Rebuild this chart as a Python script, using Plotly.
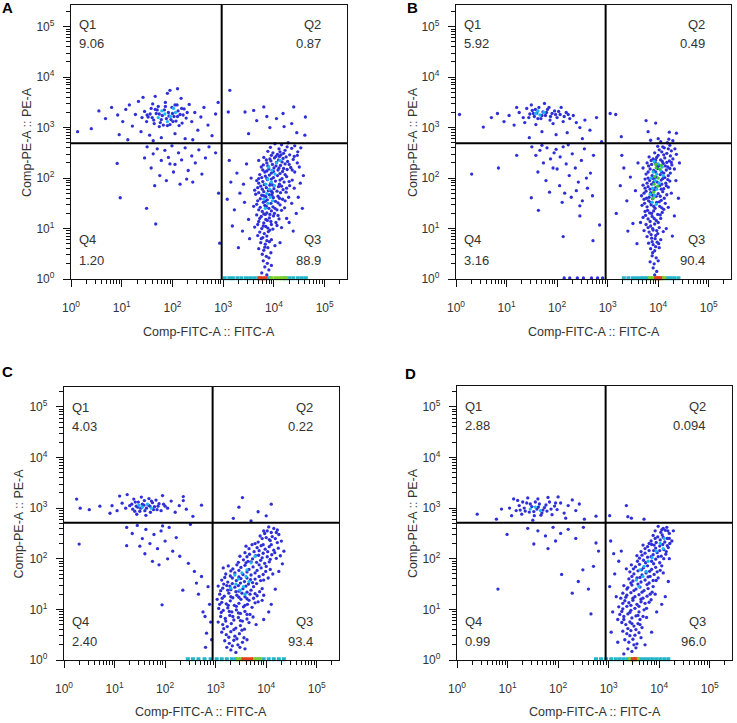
import plotly.graph_objects as go

# ---------------- data (log10 units: (FITC, PE)) ----------------
panels = ["A", "B", "C", "D"]
quad_pct = {
    "A": ["9.06", "0.87", "88.9", "1.20"],
    "B": ["5.92", "0.49", "90.4", "3.16"],
    "C": ["4.03", "0.22", "93.4", "2.40"],
    "D": ["2.88", "0.094", "96.0", "0.99"],
}
gate_x = {"A": 2.97, "B": 2.96, "C": 2.94, "D": 2.94}
gate_y = {"A": 2.69, "B": 2.69, "C": 2.71, "D": 2.71}

A_q3 = [(4.02,2.68),(4.15,2.66),(4.28,2.70),(4.41,2.64),(3.93,2.61),(4.10,2.58),(4.22,2.55),(4.35,2.59),(4.47,2.52),(3.98,2.50),(4.07,2.47),(4.19,2.49),(4.31,2.46),(4.40,2.43),(3.88,2.53),(4.53,2.60),(4.26,2.62),(4.12,2.52),
(3.80,2.41),(3.92,2.38),(4.01,2.40),(4.09,2.36),(4.18,2.39),(4.27,2.33),(4.38,2.37),(4.46,2.30),(3.86,2.30),(3.97,2.27),(4.05,2.31),(4.13,2.25),(4.22,2.28),(4.33,2.21),(3.75,2.22),(3.90,2.18),(4.00,2.20),(4.08,2.16),(4.17,2.13),(4.26,2.17),(4.41,2.12),(3.82,2.12),(3.95,2.10),(4.04,2.24),(4.50,2.22),(3.70,2.35),(4.11,2.43),
(3.72,2.07),(3.83,2.04),(3.91,2.06),(3.99,2.01),(4.07,2.05),(4.16,1.99),(4.25,2.03),(4.36,1.96),(3.66,1.95),(3.78,1.93),(3.87,1.97),(3.94,1.90),(4.03,1.94),(4.11,1.88),(4.20,1.92),(4.31,1.85),(3.74,1.84),(3.85,1.81),(3.92,1.86),(4.00,1.79),(4.09,1.83),(4.18,1.77),(4.40,1.80),(3.62,1.76),(3.80,1.73),(3.89,1.75),(3.97,1.71),(4.06,1.74),(4.24,1.72),(3.70,1.99),
(3.64,1.68),(3.76,1.66),(3.84,1.63),(3.91,1.67),(3.99,1.61),(4.08,1.64),(4.17,1.58),(4.29,1.62),(3.68,1.55),(3.79,1.52),(3.87,1.57),(3.94,1.50),(4.03,1.54),(4.12,1.47),(3.60,1.44),(3.73,1.42),(3.82,1.46),(3.90,1.40),(3.98,1.43),(4.06,1.37),(4.21,1.41),(3.77,1.34),(3.86,1.31),(3.95,1.35),(4.01,1.30),(4.35,1.50),
(3.66,1.27),(3.75,1.24),(3.83,1.28),(3.91,1.21),(3.99,1.25),(4.10,1.19),(3.70,1.14),(3.80,1.11),(3.87,1.16),(3.95,1.08),(4.04,1.12),(3.62,1.03),(3.76,1.00),(3.84,1.04),(3.92,0.97),(4.15,1.02),(3.72,0.93),(3.81,0.90),(3.89,0.94),(4.25,1.20),
(3.68,0.86),(3.78,0.82),(3.86,0.85),(3.95,0.78),(3.74,0.72),(3.83,0.69),(3.91,0.74),(4.02,0.66),(3.70,0.60),(3.80,0.57),(3.88,0.62),(3.77,0.49),(3.85,0.45),(3.94,0.52),(4.12,0.72),
(3.79,0.36),(3.87,0.31),(3.82,0.24),(3.90,0.18),(3.76,0.12),(3.86,0.08),(3.95,0.27),
(3.08,1.58),(3.15,1.92),(3.22,1.37),(3.27,2.10),(3.33,1.70),(3.38,0.95),(3.42,1.52),(3.46,2.28),(3.50,1.18),(3.30,0.62),(3.18,1.05),(3.52,0.80),(3.12,2.35),(3.40,1.88),(3.55,2.00),
(4.48,1.62),(4.52,1.90),(4.44,1.30),(4.58,2.05),(4.38,0.95),(4.30,1.12),(4.46,2.45),(4.56,1.40)]
A_q3_core = [(3.95,2.45),(4.04,2.43),(4.14,2.46),(4.24,2.42),(3.85,2.36),(3.94,2.34),(4.16,2.32),(4.30,2.27),(3.79,2.26),(3.88,2.24),(4.10,2.20),(4.19,2.19),(4.36,2.16),(3.78,2.16),(3.86,2.14),(3.99,2.13),(4.12,2.09),(4.22,2.07),(3.76,2.01),(3.86,2.00),(3.95,1.98),(4.12,1.96),(4.30,1.93),(3.70,1.90),(3.81,1.87),(3.98,1.86),(4.15,1.84),(4.25,1.80),(3.68,1.81),(3.77,1.78),(3.95,1.74),(4.13,1.71),(3.70,1.71),(3.80,1.65),(3.96,1.66),(4.11,1.60),(4.22,1.55),(3.73,1.59),(3.83,1.54),(4.08,1.51),(3.66,1.48),(3.85,1.44),(4.02,1.40),(4.15,1.36),(3.70,1.37),(3.80,1.29),(3.92,1.28),(4.08,1.26),(3.72,1.20),(3.84,1.18),(3.94,1.14),(4.06,1.06),(3.68,1.08),(3.79,1.05),(3.88,1.01),(3.98,0.99),(3.75,0.80),(3.86,0.76),(3.82,0.63),(3.90,0.42)]
A_q1 = [(1.45,3.32),(1.52,3.21),(1.58,3.38),(1.63,3.15),(1.68,3.28),(1.72,3.42),(1.76,3.10),(1.80,3.24),(1.84,3.35),(1.88,3.18),(1.92,3.30),(1.95,3.06),(1.99,3.40),(2.03,3.22),(2.07,3.13),(2.11,3.33),(2.15,3.26),(2.19,3.09),(2.23,3.37),(2.27,3.19),(1.49,3.12),(1.61,3.47),(1.74,3.02),(1.86,3.50),(2.00,3.28),(2.09,3.45),(2.21,3.25),(1.56,3.27),(1.70,3.35),(1.82,3.05),(1.97,3.16),(2.13,3.04),
(0.55,3.33),(0.68,3.18),(0.80,3.40),(0.92,3.25),(1.02,3.12),(1.08,3.36),(1.15,3.45),(1.21,3.03),(1.27,3.26),(1.33,3.52),(1.38,2.92),(1.42,3.60),(1.55,2.85),(1.66,3.62),(1.78,2.80),(1.90,3.68),(2.05,2.88),(2.17,3.58),(2.25,2.78),(2.33,3.46),(2.38,3.12),(2.44,3.30),(2.50,2.95),(2.56,3.21),(2.62,3.40),(2.70,3.05),(2.78,2.84),(2.85,3.27),(1.95,3.74),(2.10,3.77),(0.40,2.98),(0.13,2.92),(0.95,2.86),(1.12,2.76),(2.40,2.76),(1.62,2.74),(2.90,3.50)]
A_q1_core = [(1.50,3.25),(1.60,3.20),(1.66,3.36),(1.78,3.16),(1.86,3.42),(1.93,3.23),(2.01,3.12),(2.10,3.22),(2.18,3.38),(1.74,3.27),(1.40,3.20),(2.29,3.30),(1.64,3.08),(2.05,3.45),(1.90,3.04)]
A_q4 = [(1.50,2.62),(1.62,2.48),(1.70,2.58),(1.78,2.35),(1.85,2.55),(1.92,2.41),(1.99,2.64),(2.05,2.27),(2.12,2.50),(2.18,2.36),(2.25,2.60),(2.31,2.15),(2.38,2.44),(2.45,2.30),(2.52,2.56),(2.58,2.08),(2.65,2.40),(1.58,2.20),(1.75,2.05),(1.88,1.95),(2.02,2.12),(2.15,1.88),(2.28,1.98),(1.65,1.85),(2.40,1.92),(1.95,2.28),(2.72,2.62),(1.45,2.40),
(0.91,2.29),(0.97,1.61),(1.49,1.40),(1.67,1.09),(2.91,1.70),(2.93,0.71),(2.85,2.50)]
A_q2 = [(3.13,3.74),(3.10,3.31),(3.43,3.31),(3.60,3.34),(3.80,3.41),(3.66,3.14),(3.86,3.22),(4.05,3.18),(4.18,3.28),(4.39,3.41),(4.62,3.21),(3.50,2.88),(3.92,3.00),(4.20,3.02),(4.45,2.90),(4.61,2.85),(4.35,3.08)]
A_dense = [(3.90,2.22),(3.96,2.15),(4.02,2.08),(3.88,1.98),(3.95,1.92),(3.84,1.88),(4.01,1.85),(3.91,1.78),(3.86,1.69),(3.93,1.62),(3.80,1.58),(3.88,1.50),(4.05,2.30),(4.12,2.35),(3.97,1.55),(3.83,1.40),
(1.72,3.20),(1.85,3.27),(1.96,3.22),(2.06,3.30),(1.79,3.33),(1.90,3.12),(2.02,3.38)]
A_green = []
A_axis_cyan = [3.03,3.12,3.19,3.28,3.36,3.45,3.53,3.61,3.69,3.92,4.21,4.30,4.38,4.47,4.55,4.63]
A_axis_green = [3.95,4.03,4.10,4.16,4.24]
A_axis_red = [3.72,3.78,3.84]

B_q3 = [(4.05,2.72),(4.18,2.70),(4.29,2.74),(3.99,2.63),(4.12,2.60),(4.23,2.65),(4.33,2.58),(4.07,2.52),(4.17,2.49),(4.26,2.54),(3.93,2.50),(4.36,2.47),(4.02,2.56),(4.21,2.77),
(3.82,2.42),(3.90,2.38),(3.97,2.41),(4.05,2.36),(4.13,2.40),(4.22,2.34),(4.29,2.38),(3.78,2.30),(3.87,2.27),(3.94,2.31),(4.02,2.25),(4.10,2.29),(4.19,2.22),(4.27,2.26),(3.84,2.18),(3.91,2.15),(3.99,2.19),(4.07,2.12),(4.16,2.16),(4.24,2.10),(3.76,2.08),(3.88,2.05),(3.96,2.02),(4.04,2.07),(4.13,2.01),(3.70,2.20),(4.32,2.18),
(3.74,1.98),(3.83,1.95),(3.90,1.99),(3.98,1.92),(4.06,1.96),(4.15,1.90),(4.23,1.94),(3.70,1.86),(3.80,1.83),(3.87,1.88),(3.95,1.81),(4.03,1.85),(4.11,1.79),(4.20,1.82),(3.76,1.74),(3.85,1.71),(3.92,1.76),(4.00,1.69),(4.09,1.73),(4.17,1.67),(3.67,1.65),(3.82,1.62),(3.96,1.64),(4.26,1.70),
(3.72,1.58),(3.81,1.55),(3.89,1.59),(3.97,1.52),(4.06,1.56),(4.14,1.50),(3.68,1.46),(3.78,1.43),(3.86,1.47),(3.94,1.40),(4.03,1.44),(4.11,1.38),(3.74,1.34),(3.83,1.31),(3.91,1.35),(3.99,1.28),(4.08,1.32),(3.70,1.22),(3.80,1.19),(3.88,1.24),(3.96,1.16),(4.05,1.20),(4.20,1.42),(3.65,1.12),
(3.76,1.08),(3.85,1.05),(3.93,1.09),(4.02,1.02),(3.72,0.96),(3.82,0.93),(3.90,0.97),(3.99,0.90),(4.10,0.94),(3.78,0.84),(3.87,0.81),(3.95,0.86),(4.05,0.78),(3.81,0.71),(3.90,0.68),(3.98,0.73),(3.85,0.60),(3.93,0.56),(4.02,0.62),(4.16,1.00),
(3.88,0.46),(3.96,0.42),(3.84,0.34),(3.92,0.30),(4.00,0.36),(3.90,0.22),(3.97,0.15),(3.93,0.08),
(3.17,1.30),(3.25,1.85),(3.32,2.20),(3.38,1.55),(3.45,2.02),(3.50,1.10),(3.55,1.75),(3.40,0.95),(3.60,2.30),(3.28,2.45),(3.58,0.70),
(4.35,1.95),(4.40,1.60),(4.32,1.25),(4.42,2.30),(4.28,0.85)]
B_q3_core = [(4.09,2.62),(4.20,2.58),(4.00,2.45),(4.11,2.46),(4.24,2.44),(3.86,2.35),(3.95,2.36),(4.08,2.33),(4.17,2.31),(4.26,2.31),(3.81,2.24),(3.98,2.23),(4.14,2.24),(4.23,2.19),(3.80,2.12),(3.95,2.12),(4.11,2.10),(4.20,2.05),(3.80,2.00),(3.92,2.00),(4.09,1.99),(4.19,1.97),(3.78,1.90),(3.91,1.92),(4.07,1.88),(4.16,1.85),(3.74,1.80),(3.84,1.78),(4.06,1.78),(3.72,1.70),(3.89,1.66),(4.04,1.64),(4.12,1.60),(3.77,1.60),(3.85,1.52),(4.02,1.53),(3.73,1.50),(3.91,1.44),(4.07,1.41),(3.79,1.36),(3.87,1.30),(4.04,1.27),(3.75,1.26),(3.92,1.20),(3.84,1.14),(4.00,1.12),(3.80,1.02),(3.89,1.00),(3.97,0.96),(3.86,0.88),(3.94,0.80),(4.01,0.70),(3.88,0.74),(3.95,0.64),(3.89,0.52)]
B_q1 = [(1.25,3.30),(1.33,3.20),(1.40,3.38),(1.46,3.27),(1.51,3.34),(1.55,3.22),(1.60,3.29),(1.64,3.40),(1.68,3.18),(1.72,3.31),(1.77,3.24),(1.81,3.36),(1.86,3.15),(1.90,3.28),(1.95,3.33),(2.00,3.20),(2.06,3.26),(2.12,3.12),(2.18,3.30),(2.25,3.18),(2.32,3.24),(1.36,3.10),(1.49,3.45),(1.58,3.06),(1.75,3.48),(1.92,3.08),(2.08,3.40),(2.38,3.10),
(0.07,3.26),(0.54,3.01),(0.70,3.20),(0.82,3.28),(0.95,3.12),(1.05,3.24),(1.15,3.05),(1.20,3.40),(2.45,3.00),(2.55,3.15),(2.65,2.95),(2.78,3.20),(2.20,2.90),(1.98,2.86),(1.70,2.92),(1.45,2.80),(2.50,2.78),(2.88,2.72)]
B_q1_core = [(1.44,3.20),(1.53,3.28),(1.62,3.18),(1.70,3.24),(1.79,3.30),(1.87,3.22),(1.97,3.26),(2.03,3.32),(2.14,3.22),(2.22,3.26),(1.57,3.36),(1.84,3.40)]
B_q4 = [(1.50,2.62),(1.58,2.45),(1.66,2.55),(1.73,2.30),(1.80,2.60),(1.87,2.38),(1.94,2.50),(2.00,2.18),(2.06,2.42),(2.12,2.62),(2.18,2.28),(2.24,2.05),(2.30,2.48),(2.36,2.20),(2.42,1.92),(2.48,2.35),(2.54,2.58),(2.60,1.80),(2.66,2.10),(2.72,2.45),(1.62,2.12),(1.78,1.95),(1.92,2.20),(2.05,1.85),(2.15,1.70),(2.28,1.62),(2.38,1.75),(2.50,1.55),(2.58,2.00),(1.85,1.72),(2.10,1.52),(2.45,1.45),(2.70,1.65),(1.70,2.65),(2.22,2.66),(1.98,2.57),
(0.31,2.08),(0.84,2.20),(1.20,2.45),(2.12,0.84),(2.84,1.07),(2.71,0.76),(2.45,1.25),(1.49,1.61),(1.63,1.36),
(2.14,0.02),(2.25,0.02),(2.40,0.02),(2.52,0.02),(2.68,0.02),(2.80,0.02),(2.90,0.02)]
B_q2 = [(3.05,3.28),(3.16,3.26),(3.27,2.82),(3.76,3.14),(3.95,3.09),(3.80,2.92),(4.22,2.91),(4.36,2.89),(4.00,2.78),(3.85,2.75)]
B_dense = [(3.92,2.33),(4.00,2.28),(4.08,2.22),(3.90,2.12),(3.97,2.08),(4.05,2.15),(3.86,2.00),(3.94,1.95),(4.02,1.90),(3.89,1.80),(3.97,1.78),(3.84,1.68),(3.93,1.66),(3.88,1.52),(3.96,1.48),(4.10,2.05),
(1.58,3.28),(1.66,3.25),(1.74,3.30),(1.62,3.33)]
B_green = [(3.96,2.20),(4.03,2.18),(3.93,2.03),(4.00,2.00),(3.92,1.88),(3.99,1.84),(3.91,1.72),(4.06,2.25),(3.95,2.27),(3.90,1.60)]
B_axis_cyan = [3.32,3.41,3.50,3.58,3.66,3.72,3.78,4.18,4.25,4.32,4.40]
B_axis_green = [3.84,3.89,3.92,4.08,4.12]
B_axis_red = [3.96,4.00,4.04]

C_q3 = [(4.05,2.63),(4.15,2.60),(4.22,2.57),(3.95,2.55),(4.10,2.52),(4.25,2.48),(3.88,2.45),(4.00,2.42),(4.18,2.40),(4.30,2.35),(3.84,2.33),(4.08,2.36),(3.97,2.50),(4.12,2.44),
(3.60,2.25),(3.72,2.28),(3.82,2.22),(3.90,2.26),(3.98,2.19),(4.06,2.24),(4.15,2.17),(4.24,2.21),(3.58,2.12),(3.67,2.09),(3.76,2.14),(3.85,2.07),(3.94,2.11),(4.02,2.04),(4.11,2.08),(4.20,2.01),(3.55,1.98),(3.64,1.95),(3.73,2.00),(3.81,1.93),(3.89,1.97),(3.97,1.91),(4.06,1.94),(4.28,2.06),(3.48,2.05),
(3.15,1.82),(3.25,1.86),(3.34,1.80),(3.42,1.88),(3.50,1.83),(3.58,1.87),(3.66,1.79),(3.74,1.84),(3.82,1.77),(3.90,1.82),(3.99,1.75),(4.08,1.79),(3.20,1.70),(3.29,1.66),(3.38,1.72),(3.46,1.64),(3.54,1.69),(3.62,1.62),(3.70,1.68),(3.78,1.60),(3.86,1.65),(3.95,1.58),(4.04,1.62),(3.12,1.58),(3.24,1.54),(3.33,1.51),(3.41,1.57),(3.49,1.52),(3.57,1.55),(3.65,1.50),(3.73,1.53),(3.81,1.51),(4.13,1.70),
(3.05,1.46),(3.14,1.42),(3.22,1.47),(3.30,1.39),(3.38,1.44),(3.46,1.36),(3.54,1.41),(3.62,1.34),(3.70,1.38),(3.78,1.31),(3.87,1.35),(3.95,1.28),(3.08,1.30),(3.17,1.26),(3.26,1.32),(3.34,1.23),(3.42,1.28),(3.50,1.20),(3.58,1.25),(3.66,1.18),(3.75,1.22),(3.84,1.15),(3.12,1.14),(3.21,1.11),(3.29,1.17),(3.37,1.08),(3.46,1.12),(3.55,1.05),(3.63,1.10),(3.92,1.18),(3.03,1.20),
(3.06,1.02),(3.15,0.98),(3.24,1.03),(3.32,0.95),(3.41,0.99),(3.49,0.92),(3.58,0.96),(3.68,0.90),(3.10,0.86),(3.19,0.82),(3.28,0.88),(3.36,0.79),(3.45,0.84),(3.53,0.77),(3.62,0.81),(3.74,0.85),(3.14,0.70),(3.23,0.66),(3.31,0.72),(3.40,0.63),(3.49,0.68),(3.57,0.61),(3.05,0.75),(3.80,0.70),
(3.12,0.55),(3.21,0.50),(3.30,0.56),(3.38,0.47),(3.47,0.52),(3.56,0.44),(3.18,0.38),(3.27,0.33),(3.36,0.39),(3.44,0.30),(3.53,0.35),(3.30,0.20),(3.40,0.15),(3.22,0.25),(3.62,0.40),(3.58,0.22),
(4.18,1.40),(4.25,1.75),(4.35,2.15),(4.10,1.10),(3.95,0.80),(4.05,0.95),(4.32,1.90)]
C_q3_core = [(4.02,2.55),(4.20,2.52),(3.92,2.40),(4.06,2.38),(4.22,2.32),(3.78,2.30),(3.94,2.28),(4.10,2.28),(3.66,2.20),(3.86,2.16),(4.03,2.14),(4.17,2.12),(3.62,2.04),(3.79,2.06),(3.92,2.02),(4.08,1.99),(3.45,1.93),(3.60,1.92),(3.70,1.94),(3.86,1.88),(4.00,1.85),(3.30,1.76),(3.46,1.77),(3.62,1.74),(3.78,1.72),(3.94,1.69),(3.18,1.63),(3.33,1.62),(3.50,1.61),(3.69,1.59),(3.89,1.57),(3.16,1.50),(3.28,1.46),(3.45,1.47),(3.60,1.46),(3.75,1.45),(3.92,1.41),(3.10,1.37),(3.24,1.38),(3.40,1.35),(3.52,1.32),(3.68,1.30),(3.82,1.27),(3.13,1.22),(3.30,1.25),(3.46,1.24),(3.62,1.21),(3.78,1.13),(3.08,1.10),(3.25,1.08),(3.41,1.06),(3.58,1.08),(3.72,1.04),(3.11,0.94),(3.27,0.96),(3.45,0.93),(3.62,0.90),(3.20,0.77),(3.34,0.86),(3.49,0.78),(3.66,0.74),(3.16,0.62),(3.36,0.60),(3.52,0.59),(3.26,0.45),(3.42,0.42),(3.33,0.28),(3.48,0.25)]
C_q1 = [(1.30,3.05),(1.36,2.98),(1.41,3.12),(1.46,3.02),(1.50,2.94),(1.55,3.08),(1.59,3.15),(1.63,3.00),(1.67,3.06),(1.71,2.92),(1.75,3.11),(1.79,3.03),(1.84,2.97),(1.88,3.09),(1.38,3.18),(1.53,3.22),(1.68,3.19),(1.82,3.16),(1.44,2.88),(1.62,2.86),(1.92,2.95),(1.97,3.08),(2.05,3.00),(2.12,3.14),(2.20,2.92),(2.28,3.05),(2.36,3.23),(2.42,2.98),(1.22,3.00),(1.15,3.10),(1.05,2.95),(0.95,3.05),(0.91,2.90),(1.10,3.24),(1.25,3.27),(0.25,3.18),(0.32,3.00),(0.50,2.97),(0.71,3.04),(2.72,3.06),(2.36,3.15),(1.95,3.25),(2.55,2.84)]
C_q1_core = [(1.34,3.08),(1.43,3.04),(1.52,3.00),(1.58,3.06),(1.70,3.04),(1.77,2.97),(1.86,3.04),(1.60,2.95),(1.47,3.12),(1.73,3.14),(2.00,3.04),(1.40,2.94)]
C_q4 = [(1.24,2.62),(1.35,2.50),(1.45,2.66),(1.55,2.40),(1.62,2.58),(1.70,2.30),(1.78,2.48),(1.85,2.20),(1.92,2.55),(2.00,2.35),(2.08,2.62),(2.15,2.15),(2.22,2.42),(2.29,2.05),(1.60,2.10),(1.75,1.95),(1.88,1.88),(2.05,2.00),(1.50,2.25),(1.95,2.65),
(0.30,2.29),(1.24,2.26),(1.94,1.09),(2.50,2.68),
(2.46,1.91),(2.35,1.38),(2.62,1.52),(2.66,1.30),(2.79,0.86),(2.82,0.53),(2.72,1.65),(2.88,1.10),(2.92,0.40),(2.85,1.45),(2.75,0.95),(2.58,1.75),(2.90,0.75),(2.80,0.25)]
C_q2 = [(3.53,3.21),(3.46,3.02),(3.84,2.93),(4.00,2.85),(4.10,3.08),(3.35,2.80),(3.70,2.75)]
C_dense = [(3.45,1.60),(3.52,1.72),(3.60,1.65),(3.40,1.50),(3.55,1.45),(3.48,1.38),(3.62,1.78),(3.38,1.68),(3.70,1.92),(3.78,2.05),(3.58,1.30),(3.30,1.42),(3.66,1.55),
(1.55,3.02),(1.65,3.08),(1.73,3.00),(1.48,3.06)]
C_green = []
C_axis_cyan = [2.45,2.55,2.66,2.78,2.90,3.02,3.12,3.22,3.32,3.40,3.85,3.95,4.05,4.15,4.25,4.35]
C_axis_green = [3.44,3.50,3.76,3.80,3.88]
C_axis_red = [3.55,3.62,3.70]

D_q3 = [(3.98,2.64),(4.08,2.60),(4.15,2.62),(3.92,2.55),(4.03,2.52),(4.12,2.56),(4.20,2.50),(3.88,2.46),(3.97,2.43),(4.06,2.47),(4.16,2.40),(3.84,2.35),(3.94,2.32),(4.02,2.37),(4.11,2.33),(4.21,2.30),
(3.68,2.27),(3.77,2.24),(3.85,2.28),(3.93,2.21),(4.01,2.25),(4.09,2.18),(4.18,2.22),(3.64,2.14),(3.72,2.11),(3.80,2.16),(3.88,2.08),(3.96,2.12),(4.04,2.05),(4.13,2.09),(3.61,2.01),(3.69,1.97),(3.77,2.03),(3.85,1.95),(3.93,1.99),(4.01,1.92),(4.20,2.00),(3.56,2.06),
(3.45,1.88),(3.53,1.84),(3.61,1.89),(3.69,1.82),(3.77,1.86),(3.85,1.79),(3.93,1.83),(4.02,1.77),(3.42,1.74),(3.50,1.70),(3.58,1.76),(3.66,1.68),(3.74,1.72),(3.82,1.65),(3.90,1.69),(3.98,1.62),(3.40,1.60),(3.48,1.56),(3.56,1.62),(3.64,1.54),(3.72,1.58),(3.80,1.52),(3.88,1.57),(4.08,1.72),(3.35,1.80),
(3.30,1.47),(3.38,1.43),(3.46,1.48),(3.54,1.40),(3.62,1.44),(3.70,1.37),(3.78,1.41),(3.86,1.34),(3.28,1.32),(3.36,1.28),(3.44,1.33),(3.52,1.25),(3.60,1.29),(3.68,1.22),(3.76,1.26),(3.84,1.19),(3.32,1.17),(3.40,1.13),(3.48,1.18),(3.56,1.10),(3.64,1.15),(3.72,1.12),(3.92,1.30),(3.24,1.22),
(3.20,1.05),(3.28,1.01),(3.36,1.06),(3.44,0.98),(3.52,1.02),(3.60,0.95),(3.70,0.99),(3.22,0.90),(3.30,0.86),(3.38,0.91),(3.46,0.83),(3.54,0.87),(3.62,0.80),(3.75,0.84),(3.26,0.74),(3.34,0.70),(3.42,0.75),(3.50,0.67),(3.58,0.72),(3.66,0.64),(3.18,0.80),
(3.28,0.57),(3.36,0.52),(3.44,0.58),(3.52,0.49),(3.60,0.54),(3.32,0.40),(3.40,0.35),(3.48,0.41),(3.56,0.32),(3.64,0.44),(3.38,0.22),(3.46,0.17),(3.54,0.24),(3.72,0.30),(3.30,0.12),
(3.02,1.45),(3.08,0.95),(3.12,1.70),(3.05,0.55),(3.15,1.25),(3.10,2.10),(3.20,1.95),(3.04,2.35),(3.18,0.35),(3.25,2.15),
(4.18,1.55),(4.25,2.35),(4.12,1.25),(3.95,0.95),(4.05,1.10),(3.85,0.55),(4.28,2.55)]
D_q3_core = [(4.05,2.57),(4.17,2.55),(3.92,2.40),(4.08,2.42),(4.20,2.40),(3.80,2.30),(3.90,2.27),(4.07,2.28),(4.16,2.26),(3.72,2.20),(3.89,2.16),(4.01,2.16),(4.14,2.14),(3.66,2.07),(3.84,2.04),(3.98,2.04),(4.09,2.00),(3.57,1.95),(3.73,1.92),(3.89,1.90),(4.05,1.86),(3.49,1.80),(3.65,1.78),(3.81,1.75),(3.96,1.74),(3.46,1.65),(3.62,1.63),(3.78,1.64),(3.94,1.57),(3.44,1.52),(3.58,1.50),(3.76,1.49),(3.88,1.45),(3.36,1.40),(3.50,1.37),(3.66,1.34),(3.82,1.30),(3.34,1.24),(3.48,1.22),(3.64,1.20),(3.80,1.14),(3.28,1.12),(3.44,1.08),(3.60,1.06),(3.75,1.02),(3.26,0.96),(3.42,0.94),(3.58,0.88),(3.68,0.86),(3.30,0.80),(3.46,0.72),(3.62,0.70),(3.38,0.62),(3.54,0.60),(3.42,0.48),(3.50,0.30)]
D_q1 = [(1.17,2.95),(1.23,3.05),(1.28,2.88),(1.33,3.00),(1.38,3.10),(1.43,2.92),(1.48,3.03),(1.53,2.85),(1.58,2.98),(1.63,3.08),(1.68,2.90),(1.73,3.01),(1.78,2.94),(1.83,3.12),(1.88,2.87),(1.93,3.04),(1.20,3.15),(1.40,3.20),(1.60,3.18),(1.80,3.21),(1.98,2.97),(2.05,3.10),(2.12,2.90),(2.20,3.05),(2.28,3.16),(2.35,2.95),(2.42,3.08),(1.08,2.85),(1.04,3.00),(0.88,2.98),(0.78,2.78),(0.40,2.88),(2.52,2.78),(2.75,2.84),(2.15,2.80),(1.50,2.76),(1.12,3.18),(2.00,3.22)]
D_q1_core = [(1.25,2.96),(1.35,2.94),(1.45,3.08),(1.52,2.93),(1.61,3.02),(1.70,2.96),(1.76,3.06),(1.86,2.98),(1.30,3.12),(1.55,3.12),(1.66,2.86),(1.95,3.10)]
D_q4 = [(0.81,1.40),(0.99,2.48),(1.52,2.29),(1.80,2.20),(2.07,1.69),(2.28,1.32),(2.49,1.78),(2.65,0.91),(2.75,2.31),(2.80,2.15),(1.40,2.60),(1.60,2.55),(1.75,2.45),(1.90,2.62),(2.05,2.50),(2.20,2.58),(2.35,2.40),(2.50,2.62),(2.60,1.40),(2.70,1.85),(2.40,1.55),(1.95,2.35)]
D_q2 = [(3.35,3.05),(3.38,2.83),(3.45,2.80),(3.02,2.85),(3.70,2.78)]
D_dense = [(3.70,1.85),(3.78,1.95),(3.62,1.78),(3.86,2.02),(3.94,2.15),(4.02,2.30),(4.10,2.40),(3.68,1.65),(3.55,1.58),(3.74,1.75),(4.08,2.20),(3.60,1.45),
(1.45,2.98),(1.55,3.02),(1.65,2.95)]
D_green = []
D_axis_cyan = [2.75,2.85,2.95,3.05,3.14,3.22,3.30,3.38,3.62,3.70,3.78,3.86,3.94,4.02,4.10,4.18]
D_axis_green = [3.42,3.46,3.55,3.58]
D_axis_red = [3.48,3.52]

tick_vals = [1, 10, 100, 1000, 10000, 100000]
tick_text = ["10<sup>0</sup>", "10<sup>1</sup>", "10<sup>2</sup>", "10<sup>3</sup>", "10<sup>4</sup>", "10<sup>5</sup>"]
x_title = "Comp-FITC-A :: FITC-A"
y_title = "Comp-PE-A :: PE-A"

blue_sets = {"A": [A_q3, A_q3_core, A_q1, A_q1_core, A_q4, A_q2],
             "B": [B_q3, B_q3_core, B_q1, B_q1_core, B_q4, B_q2],
             "C": [C_q3, C_q3_core, C_q1, C_q1_core, C_q4, C_q2],
             "D": [D_q3, D_q3_core, D_q1, D_q1_core, D_q4, D_q2]}
dense_sets = {"A": A_dense, "B": B_dense, "C": C_dense, "D": D_dense}
green_sets = {"A": A_green, "B": B_green, "C": C_green, "D": D_green}
axis_sets = {"A": (A_axis_cyan, A_axis_green, A_axis_red), "B": (B_axis_cyan, B_axis_green, B_axis_red),
             "C": (C_axis_cyan, C_axis_green, C_axis_red), "D": (D_axis_cyan, D_axis_green, D_axis_red)}

# ---------------- layout geometry ----------------
W, H = 737, 723
boxes = {"A": (71, 347, 5, 279), "B": (456, 731, 5, 279),
         "C": (64, 339, 387, 660), "D": (457, 732, 386, 660)}
yranges = {"A": 5.43, "B": 5.43, "C": 5.395, "D": 5.41}
FONT = "Liberation Sans, Arial, sans-serif"
BLUE = "#2f2fd8"
CYAN = "#18b8f0"
GREEN = "#3cc83c"

minor_vals = [m * 10 ** k for k in range(0, 6) for m in range(2, 10) if m * 10 ** k < 3e5]

fig = go.Figure()

def add_pts(pts, color, idx, size=3.3):
    if not pts:
        return
    fig.add_trace(go.Scatter(
        x=[10 ** p[0] for p in pts], y=[10 ** p[1] for p in pts],
        mode="markers", xaxis="x" + idx, yaxis="y" + idx,
        marker=dict(color=color, size=size, line=dict(width=0)),
        hoverinfo="skip", showlegend=False))

def add_axis_pile(xs, color, idx):
    if not xs:
        return
    fig.add_trace(go.Scatter(
        x=[10 ** v for v in xs], y=[10 ** 0.015 for _ in xs],
        mode="markers", xaxis="x" + idx, yaxis="y" + idx, cliponaxis=False,
        marker=dict(color=color, size=4, symbol="square", line=dict(width=0)),
        hoverinfo="skip", showlegend=False))

annotations = []
shapes = []
for i, p in enumerate(panels):
    idx = "" if i == 0 else str(i + 1)
    for s in blue_sets[p]:
        add_pts(s, BLUE, idx)
    add_pts(dense_sets[p], CYAN, idx)
    add_pts(green_sets[p], GREEN, idx)
    cy, gr, rd = axis_sets[p]
    add_axis_pile(cy, "#22b4c8", idx)
    add_axis_pile(gr, "#7ccf2a", idx)
    add_axis_pile(rd, "#e0401c", idx)

    x0, x1, yt, yb = boxes[p]
    xd = [x0 / W, x1 / W]
    yd = [1 - yb / H, 1 - yt / H]
    common = dict(type="log", showgrid=False, zeroline=False, showline=True, automargin=False,
                  linecolor="#111", linewidth=1.3, mirror=True, ticks="outside",
                  ticklen=7, tickwidth=1.3, tickcolor="#111",
                  tickvals=tick_vals, ticktext=tick_text,
                  tickfont=dict(size=12, color="#333", family=FONT),
                  minor=dict(ticks="outside", ticklen=4, tickwidth=1, tickcolor="#111",
                             tickvals=minor_vals, showgrid=False))
    fig.update_layout(**{
        "xaxis" + idx: dict(common, domain=xd, range=[0, 5.44], anchor="y" + idx, ticklabelstandoff=10),
        "yaxis" + idx: dict(common, domain=yd, range=[0, yranges[p]], anchor="x" + idx, ticklabelstandoff=6),
    })
    # quadrant gates (data values)
    gx, gy = 10 ** gate_x[p], 10 ** gate_y[p]
    shapes.append(dict(type="line", xref="x" + idx, yref="y" + idx + " domain",
                       x0=gx, x1=gx, y0=0, y1=1, line=dict(color="#000", width=2)))
    shapes.append(dict(type="line", xref="x" + idx + " domain", yref="y" + idx,
                       x0=0, x1=1, y0=gy, y1=gy, line=dict(color="#000", width=2)))
    # quadrant labels
    q1, q2, q3, q4 = quad_pct[p]
    bw, bh = x1 - x0, yb - yt
    lx = 6 / bw
    rx = 1 - 24 / bw
    for txt, xx, yy, anc in [("Q1", lx, 1 - 20 / bh, "left"), (q1, lx, 1 - 39 / bh, "left"),
                             ("Q2", rx, 1 - 20 / bh, "right"), (q2, rx, 1 - 39 / bh, "right"),
                             ("Q4", lx, 39 / bh, "left"), (q4, lx, 19 / bh, "left"),
                             ("Q3", rx, 39 / bh, "right"), (q3, rx, 19 / bh, "right")]:
        annotations.append(dict(text=txt, xref="x" + idx + " domain", yref="y" + idx + " domain",
                                x=xx, y=yy, xanchor=anc, yanchor="middle", showarrow=False,
                                font=dict(size=13, color="#333", family=FONT)))
    # axis titles
    xt_y = 332 if p in "AB" else 712
    annotations.append(dict(text=x_title, xref="paper", yref="paper", x=(x0 + x1) / 2 / W,
                            y=1 - xt_y / H, xanchor="center", yanchor="middle", showarrow=False,
                            font=dict(size=12.5, color="#333", family=FONT)))
    yt_x = {"A": 27, "B": 413, "C": 18, "D": 413}[p]
    annotations.append(dict(text=y_title, xref="paper", yref="paper", x=yt_x / W,
                            y=1 - ((yt + yb) / 2) / H, xanchor="center", yanchor="middle",
                            textangle=-90, showarrow=False,
                            font=dict(size=12.5, color="#333", family=FONT)))
    # panel letter
    lpos = {"A": (8, 8), "B": (412, 8), "C": (8, 372), "D": (410, 373)}[p]
    annotations.append(dict(text="<b>" + p + "</b>", xref="paper", yref="paper",
                            x=lpos[0] / W, y=1 - lpos[1] / H, xanchor="center", yanchor="middle",
                            showarrow=False, font=dict(size=15, color="#000", family=FONT)))

fig.update_layout(width=W, height=H, margin=dict(l=0, r=0, t=0, b=0, autoexpand=False),
                  paper_bgcolor="white", plot_bgcolor="white", showlegend=False,
                  annotations=annotations, shapes=shapes)
fig.write_html("out.html", config={"displayModeBar": False},
               post_script="document.body.style.margin='0px';document.body.style.overflow='hidden';")
